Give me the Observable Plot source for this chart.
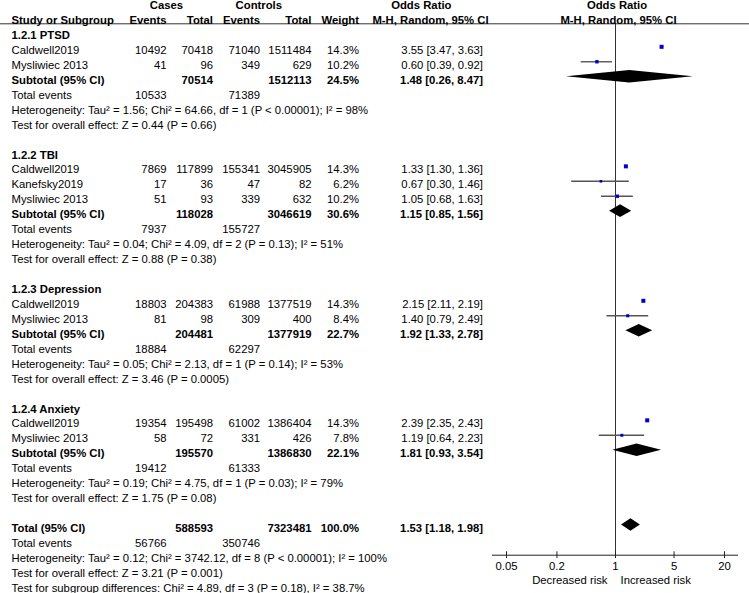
<!DOCTYPE html>
<html><head><meta charset="utf-8">
<script src="https://cdn.jsdelivr.net/npm/d3@7"></script>
<script src="https://cdn.jsdelivr.net/npm/@observablehq/plot@0.6"></script>
<style>
html,body{margin:0;padding:0;background:#fff;}
#chart{width:749px;height:593px;overflow:hidden;}
</style></head><body><div id="chart"></div>
<script>
// ---------- DATA ----------
const headerRow1 = ["Cases", "Controls", "Odds Ratio", "Odds Ratio"];
const headerRow2 = ["Study or Subgroup", "Events", "Total", "Events", "Total", "Weight", "M-H, Random, 95% CI", "M-H, Random, 95% CI"];

const studyGroup = ["PTSD","PTSD","TBI","TBI","TBI","Depression","Depression","Anxiety","Anxiety"];
const studyName  = ["Caldwell2019","Mysliwiec 2013","Caldwell2019","Kanefsky2019","Mysliwiec 2013","Caldwell2019","Mysliwiec 2013","Caldwell2019","Mysliwiec 2013"];
const caseEvents = [10492, 41, 7869, 17, 51, 18803, 81, 19354, 58];
const caseTotal  = [70418, 96, 117899, 36, 93, 204383, 98, 195498, 72];
const ctrlEvents = [71040, 349, 155341, 47, 339, 61988, 309, 61002, 331];
const ctrlTotal  = [1511484, 629, 3045905, 82, 632, 1377519, 400, 1386404, 426];
const weight     = [14.3, 10.2, 14.3, 6.2, 10.2, 14.3, 8.4, 14.3, 7.8];
const orEst      = [3.55, 0.60, 1.33, 0.67, 1.05, 2.15, 1.40, 2.39, 1.19];
const orLo       = [3.47, 0.39, 1.30, 0.30, 0.68, 2.11, 0.79, 2.35, 0.64];
const orHi       = [3.63, 0.92, 1.36, 1.46, 1.63, 2.19, 2.49, 2.43, 2.23];

const subKey        = ["PTSD", "TBI", "Depression", "Anxiety"];
const subLabel      = ["1.2.1 PTSD", "1.2.2 TBI", "1.2.3 Depression", "1.2.4 Anxiety"];
const subCaseTotal  = [70514, 118028, 204481, 195570];
const subCtrlTotal  = [1512113, 3046619, 1377919, 1386830];
const subWeight     = [24.5, 30.6, 22.7, 22.1];
const subEst        = [1.48, 1.15, 1.92, 1.81];
const subLo         = [0.26, 0.85, 1.33, 0.93];
const subHi         = [8.47, 1.56, 2.78, 3.54];
const subCaseEvents = [10533, 7937, 18884, 19412];
const subCtrlEvents = [71389, 155727, 62297, 61333];
const subHetero = [
  "Tau² = 1.56; Chi² = 64.66, df = 1 (P < 0.00001); I² = 98%",
  "Tau² = 0.04; Chi² = 4.09, df = 2 (P = 0.13); I² = 51%",
  "Tau² = 0.05; Chi² = 2.13, df = 1 (P = 0.14); I² = 53%",
  "Tau² = 0.19; Chi² = 4.75, df = 1 (P = 0.03); I² = 79%"
];
const subOverall = ["Z = 0.44 (P = 0.66)", "Z = 0.88 (P = 0.38)", "Z = 3.46 (P = 0.0005)", "Z = 1.75 (P = 0.08)"];

const totalCaseTotal = 588593, totalCtrlTotal = 7323481, totalWeight = 100.0;
const totalEst = 1.53, totalLo = 1.18, totalHi = 1.98;
const totalCaseEvents = 56766, totalCtrlEvents = 350746;
const totalHetero = "Tau² = 0.12; Chi² = 3742.12, df = 8 (P < 0.00001); I² = 100%";
const totalOverall = "Z = 3.21 (P = 0.001)";
const subgroupDiff = "Chi² = 4.89, df = 3 (P = 0.18), I² = 38.7%";

const axisTicks = [0.05, 0.2, 1, 5, 20];
const riskLabels = ["Decreased risk", "Increased risk"];

// ---------- LAYOUT ----------
const W = 749, H = 593;
const Y0 = 5, YN = 587.7, NROWS = 39;
const PITCH = (YN - Y0) / NROWS;
const rowOf = px => (px - Y0) / PITCH;
const GDY = -3.5;               // graphic offset relative to text centre
const HALF = 6.3 / PITCH;       // diamond half-height in row units
const COL = {label: 11, ce: 166, ct: 212.5, ve: 259.5, vt: 311, w: 358.5, or: 482.5};
const AXIS_Y = 554.7;

const fmtOR = (e, l, h) => `${e.toFixed(2)} [${l.toFixed(2)}, ${h.toFixed(2)}]`;
const pct = v => v.toFixed(1) + "%";

const textRows = [], studyPts = [], diamondPts = [];
function addDiamond(row, e, l, h, g) {
  diamondPts.push({g, x: l, y1: row, y2: row});
  diamondPts.push({g, x: e, y1: row - HALF, y2: row + HALF});
  diamondPts.push({g, x: h, y1: row, y2: row});
}
let r = 2;
subKey.forEach((key, g) => {
  textRows.push({row: r++, label: subLabel[g], bold: true});
  studyName.forEach((name, i) => {
    if (studyGroup[i] !== key) return;
    textRows.push({row: r, label: name, ce: caseEvents[i], ct: caseTotal[i], ve: ctrlEvents[i], vt: ctrlTotal[i], w: pct(weight[i]), or: fmtOR(orEst[i], orLo[i], orHi[i])});
    studyPts.push({row: r, est: orEst[i], lo: orLo[i], hi: orHi[i], w: weight[i]});
    r++;
  });
  textRows.push({row: r, label: "Subtotal (95% CI)", bold: true, ct: subCaseTotal[g], vt: subCtrlTotal[g], w: pct(subWeight[g]), or: fmtOR(subEst[g], subLo[g], subHi[g])});
  addDiamond(r, subEst[g], subLo[g], subHi[g], key);
  r++;
  textRows.push({row: r++, label: "Total events", ce: subCaseEvents[g], ve: subCtrlEvents[g]});
  textRows.push({row: r++, label: "Heterogeneity: " + subHetero[g]});
  textRows.push({row: r++, label: "Test for overall effect: " + subOverall[g]});
  r++;
});
textRows.push({row: r, label: "Total (95% CI)", bold: true, ct: totalCaseTotal, vt: totalCtrlTotal, w: pct(totalWeight), or: fmtOR(totalEst, totalLo, totalHi)});
addDiamond(r, totalEst, totalLo, totalHi, "Total");
r++;
textRows.push({row: r++, label: "Total events", ce: totalCaseEvents, ve: totalCtrlEvents});
textRows.push({row: r++, label: "Heterogeneity: " + totalHetero});
textRows.push({row: r++, label: "Test for overall effect: " + totalOverall});
textRows.push({row: r++, label: "Test for subgroup differences: " + subgroupDiff});

function col(key, dx, anchor) {
  return [true, false].map(b => Plot.text(
    textRows.filter(d => !!d.bold === b && d[key] != null),
    {y: "row", text: d => String(d[key]), frameAnchor: "left", dx, textAnchor: anchor, fontWeight: b ? "bold" : "normal", fill: "#000"}
  ));
}

// header positions
const h1pos = [{dx: 166}, {dx: 258.3}, {dx: 420.8}];
const h2pos = [
  {dx: COL.label, a: "start"}, {dx: COL.ce, a: "end"}, {dx: COL.ct, a: "end"},
  {dx: COL.ve, a: "end"}, {dx: COL.vt, a: "end"}, {dx: COL.w, a: "end"}, {dx: 430, a: "middle"}
];
const headerMarks = [];
h1pos.forEach((p, i) => headerMarks.push(Plot.text([headerRow1[i]], {y: () => 0, text: d => d, frameAnchor: "left", dx: p.dx, textAnchor: "middle", fontWeight: "bold"})));
headerMarks.push(Plot.text([headerRow1[3]], {x: () => 1, y: () => 0, text: d => d, dx: 1.5, textAnchor: "middle", fontWeight: "bold"}));
h2pos.forEach((p, i) => headerMarks.push(Plot.text([headerRow2[i]], {y: () => 1, text: d => d, frameAnchor: "left", dx: p.dx, textAnchor: p.a, fontWeight: "bold"})));
headerMarks.push(Plot.text([headerRow2[7]], {x: () => 1, y: () => 1, text: d => d, dx: 3, textAnchor: "middle", fontWeight: "bold"}));

const chart = Plot.plot({
  width: W, height: H,
  marginTop: 0, marginLeft: 0, marginRight: 0, marginBottom: 0,
  style: {fontFamily: "'Liberation Sans', Arial, sans-serif", fontSize: "11.3px", background: "#fff", color: "#000"},
  x: {type: "log", domain: [axisTicks[0], axisTicks[axisTicks.length - 1]], range: [506, 724], axis: null},
  y: {domain: [0, NROWS], range: [Y0, YN], axis: null},
  r: {type: "sqrt", domain: [0, 14.3], range: [0, 2.26]},
  marks: [
    // header underline
    Plot.ruleY([rowOf(23.3)], {stroke: "#333", strokeWidth: 1}),
    // line of no effect
    Plot.ruleX([1], {y1: rowOf(23.3), y2: rowOf(AXIS_Y), stroke: "#333", strokeWidth: 1}),
    // axis line, ticks and tick labels
    Plot.ruleY([rowOf(AXIS_Y)], {x1: axisTicks[0], x2: axisTicks[axisTicks.length - 1], insetLeft: -14, insetRight: -14, stroke: "#222"}),
    Plot.ruleX(axisTicks, {x: d => d, y1: rowOf(AXIS_Y - 3.4), y2: rowOf(AXIS_Y + 3.4), stroke: "#222"}),
    Plot.text(axisTicks, {x: d => d, y: () => rowOf(566), text: d => String(d), fill: "#000"}),
    Plot.text([riskLabels[0]], {x: () => 1, y: () => rowOf(580), text: d => d, textAnchor: "end", dx: -8}),
    Plot.text([riskLabels[1]], {x: () => 1, y: () => rowOf(580), text: d => d, textAnchor: "start", dx: 5}),
    // CIs and squares
    Plot.ruleY(studyPts, {y: "row", x1: "lo", x2: "hi", stroke: "#555", strokeWidth: 1.4, dy: GDY}),
    Plot.dot(studyPts, {x: "est", y: "row", r: "w", symbol: "square", fill: "#0000cc", stroke: null, dy: GDY}),
    // diamonds
    Plot.areaY(diamondPts, {x: "x", y1: "y1", y2: "y2", z: "g", fill: "#000", dy: GDY}),
    // headers
    ...headerMarks,
    // table text
    ...col("label", COL.label, "start"),
    ...col("ce", COL.ce, "end"),
    ...col("ct", COL.ct, "end"),
    ...col("ve", COL.ve, "end"),
    ...col("vt", COL.vt, "end"),
    ...col("w", COL.w, "end"),
    ...col("or", COL.or, "end")
  ]
});
document.getElementById("chart").appendChild(chart);
</script>
</body></html>
